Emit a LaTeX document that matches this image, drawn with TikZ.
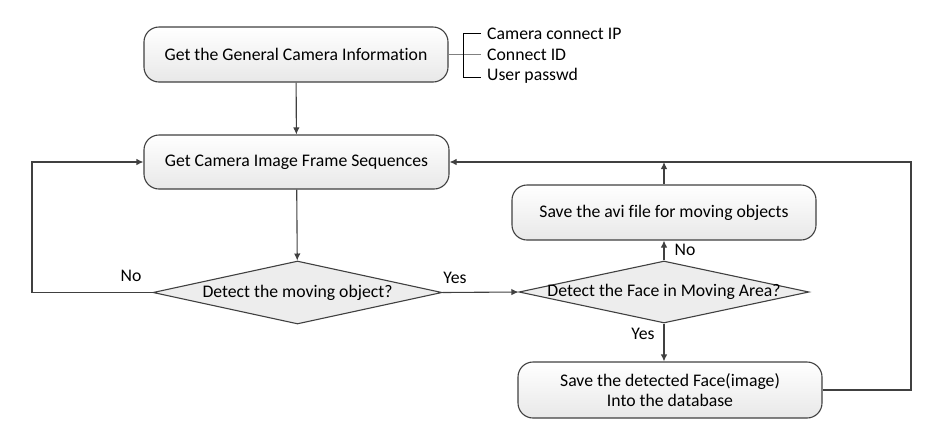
\documentclass[tikz,border=0pt]{standalone}
\usepackage{fontspec}
\setmainfont{Carlito}[Ligatures=NoCommon]
\usetikzlibrary{shapes.geometric,arrows.meta}
\definecolor{linec}{HTML}{404040}
\definecolor{boxbot}{HTML}{E8E8E8}
\definecolor{decfill}{HTML}{EDEDED}
\tikzset{
  procbox/.style={draw=linec, line width=1.1pt, rounded corners=15pt, top color=white, bottom color=boxbot, inner sep=0pt, align=center},
  decbox/.style={diamond, draw=linec, line width=1.1pt, fill=decfill, inner sep=0pt},
  arr/.style={draw=linec, line width=1.1pt, -{Latex[length=7pt,width=6.5pt]}},
  brk/.style={draw=black, line width=0.9pt},
  lbl/.style={inner sep=0pt, text=black}
}
\begin{document}
\begin{tikzpicture}[x=1pt,y=-1pt,font=\fontsize{17.7}{20}\selectfont]
\useasboundingbox (0,0) rectangle (937,432);
% nodes
\node[procbox, minimum width=304pt, minimum height=55pt] (info) at (296,54.5) {Get the General Camera Information};
\node[procbox, minimum width=305pt, minimum height=54pt] (seq) at (296.5,162) {Get Camera Image Frame Sequences};
\node[decbox, minimum width=289pt, minimum height=63pt] (move) at (297.5,292.5) {\makebox[0pt]{Detect the moving object?}};
\node[decbox, minimum width=290pt, minimum height=62pt] (face) at (664,292) {\makebox[0pt]{Detect the Face in Moving Area?}};
\node[procbox, minimum width=304pt, minimum height=55pt] (avi) at (664,212.5) {Save the avi file for moving objects};
\node[procbox, minimum width=304pt, minimum height=56pt] (db) at (670,390) {Save the detected Face(image)\\Into the database};
% side list
\node[lbl, anchor=west] (t1) at (487,34) {Camera connect IP};
\node[lbl, anchor=west] (t2) at (487,55) {Connect ID};
\node[lbl, anchor=west] (t3) at (487,75.5) {User passwd};
\coordinate (bt) at (481,33);
\coordinate (bm) at (481,54.5);
\coordinate (bb) at (481,77);
\coordinate (vt) at (463,33);
\coordinate (vb) at (463,77);
\draw[draw=gray, line width=1.1pt] (info.east) -- (bm);
\draw[brk] (bt) -- (vt) -- (vb) -- (bb);
% connectors
\coordinate (lx) at (32,0);
\coordinate (rx) at (911,0);
\draw[arr] (info) -- (seq);
\draw[arr] (seq) -- (move);
\draw[arr] (move.west) -- (move.west -| lx) -- (lx |- seq.west) -- (seq.west);
\draw[arr] (move.east) -- (face.west);
\draw[arr] (face.north) -- (avi.south);
\draw[arr] (face.south) -- (face.south |- db.north);
\draw[arr] (db.east) -- (db.east -| rx) -- (rx |- seq.east) -- (seq.east);
\draw[arr] (avi.north) -- (avi.north |- seq.east);
% labels
\node[lbl] (no1) at (131,276) {No};
\node[lbl] (yes1) at (455,278) {Yes};
\node[lbl] (no2) at (685,250) {No};
\node[lbl] (yes2) at (643,334) {Yes};
\end{tikzpicture}
\end{document}
